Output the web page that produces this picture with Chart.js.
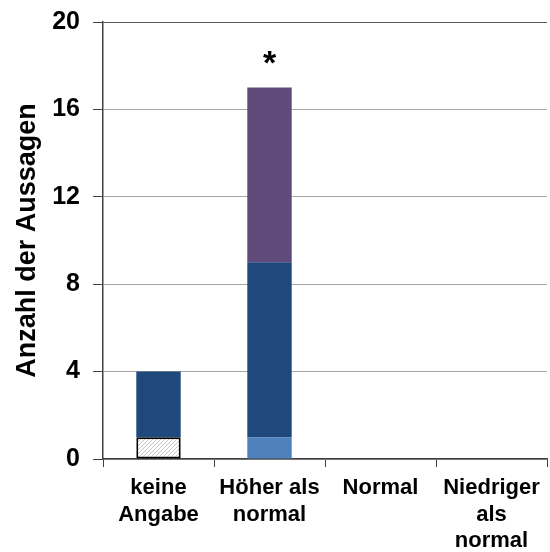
<!DOCTYPE html>
<html lang="de">
<head>
<meta charset="utf-8">
<title>Anzahl der Aussagen</title>
<script src="https://cdn.jsdelivr.net/npm/chart.js@4/dist/chart.umd.min.js"></script>
<style>
  html, body { margin: 0; padding: 0; background: #ffffff; }
  #wrap { width: 550px; height: 552px; position: relative; }
</style>
</head>
<body>
<div id="wrap"><canvas id="chart"></canvas></div>
<script>
// Kategorien der x-Achse (mehrzeilige Beschriftungen)
const categories = [
  ['keine', 'Angabe'],
  ['Höher als', 'normal'],
  ['Normal'],
  ['Niedriger', 'als', 'normal']
];

// Gestapelte Teilwerte je Kategorie (null = kein Segment)
const hatchedValues  = [1, null, null, null];
const lightValues    = [null, 1, null, null];
const darkValues     = [3, 8, null, null];
const purpleValues   = [null, 8, null, null];

// Markierung über dem Stapel
const markers = ['', '*', '', ''];

// Teilstriche der y-Achse
const yTickValues = [0, 4, 8, 12, 16, 20];

const FONT = '"Liberation Sans", Arial, sans-serif';

// Schraffur: feine diagonale graue Linien auf Weiß
function makeHatch() {
  const c = document.createElement('canvas');
  c.width = 4; c.height = 4;
  const g = c.getContext('2d');
  g.fillStyle = '#ffffff';
  g.fillRect(0, 0, 4, 4);
  g.strokeStyle = '#b8b8b8';
  g.lineWidth = 0.8;
  g.beginPath();
  g.moveTo(-1, 5); g.lineTo(5, -1);
  g.moveTo(-1, 1); g.lineTo(1, -1);
  g.moveTo(3, 5); g.lineTo(5, 3);
  g.stroke();
  return g.createPattern(c, 'repeat');
}

// Zeichnet die Markierungen oberhalb der Stapelsumme
const markerPlugin = {
  id: 'stackMarkers',
  afterDatasetsDraw(chart) {
    const ctx = chart.ctx;
    const y = chart.scales.y;
    const x = chart.scales.x;
    ctx.save();
    ctx.fillStyle = '#000000';
    ctx.font = 'bold 34px ' + FONT;
    ctx.textAlign = 'center';
    ctx.textBaseline = 'alphabetic';
    markers.forEach((m, i) => {
      if (!m) return;
      const total = [hatchedValues, lightValues, darkValues, purpleValues]
        .reduce((s, arr) => s + (arr[i] || 0), 0);
      ctx.fillText(m, x.getPixelForValue(i), y.getPixelForValue(total) - 14);
    });
    ctx.restore();
  }
};

const hatch = makeHatch();

new Chart(document.getElementById('chart'), {
  type: 'bar',
  data: {
    labels: categories,
    datasets: [
      { label: 'k. A.', data: hatchedValues, backgroundColor: hatch,
        borderColor: '#000000', borderWidth: 2, borderSkipped: false },
      { label: 'Teil 1', data: lightValues, backgroundColor: '#4f81bd' },
      { label: 'Teil 2', data: darkValues, backgroundColor: '#1f487c' },
      { label: 'Teil 3', data: purpleValues, backgroundColor: '#604a7b' }
    ]
  },
  options: {
    responsive: true,
    maintainAspectRatio: false,
    devicePixelRatio: 1,
    animation: false,
    layout: { padding: { top: 22, right: 3, left: 0, bottom: 0 } },
    plugins: {
      legend: { display: false },
      tooltip: { enabled: false }
    },
    datasets: {
      bar: { categoryPercentage: 1.0, barPercentage: 0.4 }
    },
    scales: {
      x: {
        stacked: true,
        grid: {
          offset: true,
          drawOnChartArea: false,
          drawTicks: true,
          tickLength: 8,
          tickColor: '#404040'
        },
        border: { color: '#404040', width: 1.5 },
        ticks: {
          color: '#000000',
          padding: 8,
          maxRotation: 0,
          autoSkip: false,
          font: { family: FONT, size: 22, weight: 'bold', lineHeight: 1.2 }
        },
        afterFit(scale) {
          scale.height = 93;
          scale.paddingLeft = 0;
          scale.paddingRight = 0;
        }
      },
      y: {
        stacked: true,
        min: 0,
        max: 20,
        afterBuildTicks(scale) {
          scale.ticks = yTickValues.map(v => ({ value: v }));
        },
        grid: {
          color: ctx => (ctx.tick && ctx.tick.value === 20) ? '#5a5a5a' : '#a6a6a6',
          lineWidth: 1,
          tickLength: 10,
          tickColor: '#404040'
        },
        border: { color: '#404040', width: 1.5 },
        ticks: {
          color: '#000000',
          padding: 13,
          font: { family: FONT, size: 25, weight: 'bold' }
        },
        title: {
          display: true,
          text: 'Anzahl der Aussagen',
          color: '#000000',
          padding: { top: 11, bottom: 0 },
          font: { family: FONT, size: 27, weight: 'bold', lineHeight: 1.2 }
        },
        afterFit(scale) {
          scale.width = 103;
          scale.paddingTop = 0;
          scale.paddingBottom = 0;
        }
      }
    }
  },
  plugins: [markerPlugin]
});
</script>
</body>
</html>
